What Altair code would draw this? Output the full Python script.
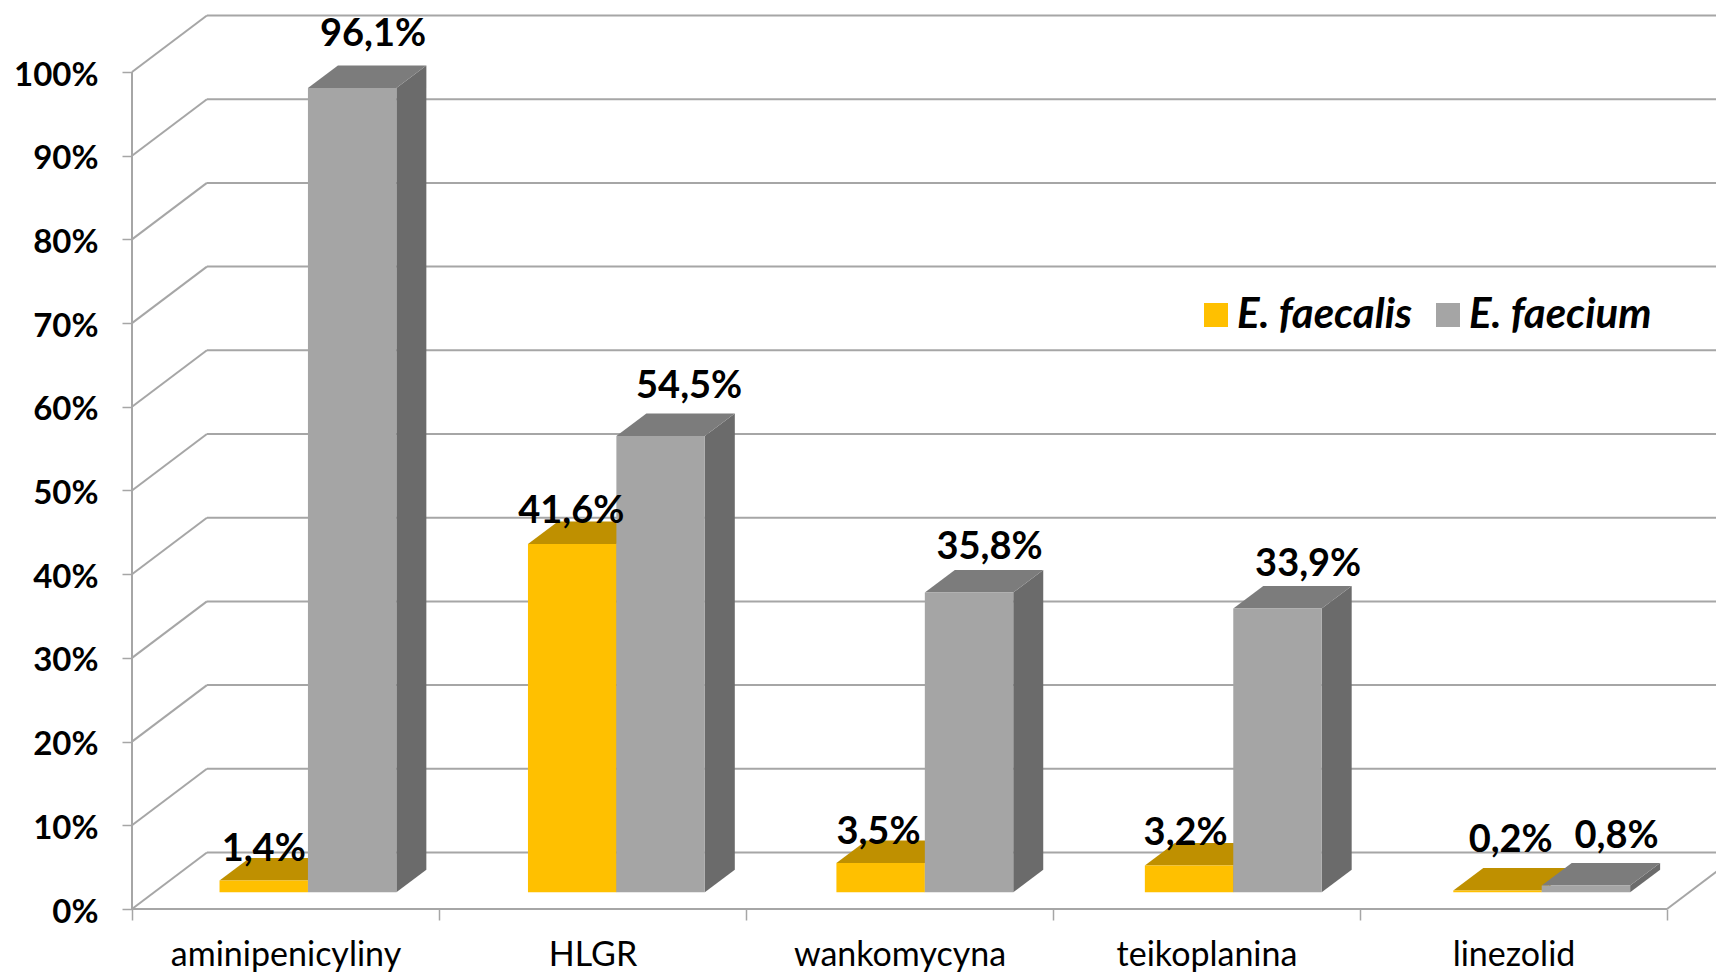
import altair as alt
import pandas as pd

CATEGORIES = ["aminipenicyliny", "HLGR", "wankomycyna", "teikoplanina", "linezolid"]
FAECALIS = [1.4, 41.6, 3.5, 3.2, 0.2]
FAECIUM = [96.1, 54.5, 35.8, 33.9, 0.8]
FAECALIS_TEXT = ["1,4%", "41,6%", "3,5%", "3,2%", "0,2%"]
FAECIUM_TEXT = ["96,1%", "54,5%", "35,8%", "33,9%", "0,8%"]
Y_TICKS = list(range(0, 101, 10))
X_TICKS = [0, 1, 2, 3, 4, 5]

# label nudges (category units, percent units)
FAECALIS_NX = [0.0, -0.003, -0.007, -0.011, 0.043]
FAECALIS_NY = [3.7, 3.8, 3.6, 3.8, 5.9]
FAECIUM_NX = [0.068, 0.093, 0.067, 0.100, 0.100]
FAECIUM_NY = [6.3, 5.9, 5.3, 5.2, 5.8]

# pseudo-3D geometry
WALL_DX, WALL_DY = 0.244, 6.75
BASE_DX, BASE_DY = 0.0731, 2.0
DEPTH_DX, DEPTH_DY = 0.0977, 2.69
BAR_W = 0.288
BAR_STEP = 1.0047
X_MAX = 1584 / 307
Y_MAX = 901 / 8.37

FONT = "Lato"
GRID = "#A6A6A6"
SERIES = [
    ("E. faecalis", FAECALIS, FAECALIS_TEXT, FAECALIS_NX, FAECALIS_NY, 0, "#BF9000", "#A07800"),
    ("E. faecium", FAECIUM, FAECIUM_TEXT, FAECIUM_NX, FAECIUM_NY, 1, "#7C7C7C", "#6B6B6B"),
]

xs = alt.Scale(domain=[0, X_MAX], nice=False, zero=False)
ys = alt.Scale(domain=[0, Y_MAX], nice=False, zero=False)
x_axis = alt.Axis(
    values=X_TICKS, domain=False, grid=False, tickColor=GRID, tickSize=11, tickWidth=1.5,
    labelFont=FONT, labelFontSize=34, labelColor="#000000", labelPadding=35,
    labelOffset=153.5, labelAlign="center", labelBaseline="middle", labelLimit=600,
    labelFlush=False, labelOverlap=False, labelBound=False, title=None,
    labelExpr="datum.value<5 ? " + str(CATEGORIES) + "[datum.value] : ''",
)
y_axis = alt.Axis(
    values=Y_TICKS, domain=False, grid=False, tickColor=GRID, tickSize=10, tickWidth=1.5,
    labelFont=FONT, labelFontSize=33, labelFontWeight="bold", labelColor="#000000", labelOffset=3,
    labelPadding=24, labelExpr="datum.value+'%'", labelOverlap=False, labelBound=False, title=None,
)


def X(field="x:Q"):
    return alt.X(field, scale=xs, axis=x_axis)


def Y(field="y:Q"):
    return alt.Y(field, scale=ys, axis=y_axis)


axis_rule = alt.Chart(pd.DataFrame({"x": [0.0], "y": [0.0], "y2": [100.0]})).mark_rule(
    color=GRID, strokeWidth=2
).encode(x=X(), y=Y(), y2="y2:Q")

floor_rows = pd.DataFrame({
    "x": [0.0, 5.0], "x2": [5.0, 5.0 + WALL_DX], "y": [0.0, 0.0], "y2": [0.0, WALL_DY],
})
floor = alt.Chart(floor_rows).mark_rule(color=GRID, strokeWidth=2).encode(
    x=X(), x2="x2:Q", y=Y(), y2="y2:Q"
)

back_rows = pd.DataFrame({
    "x": [WALL_DX] * len(Y_TICKS), "x2": [X_MAX] * len(Y_TICKS),
    "y": [v + WALL_DY for v in Y_TICKS],
})
back = alt.Chart(back_rows).mark_rule(color=GRID, strokeWidth=2).encode(
    x=X(), x2="x2:Q", y=Y()
)

diag_rows = pd.DataFrame({
    "x": [0.0] * len(Y_TICKS), "x2": [WALL_DX] * len(Y_TICKS),
    "y": Y_TICKS, "y2": [v + WALL_DY for v in Y_TICKS],
})
diag = alt.Chart(diag_rows).mark_rule(color=GRID, strokeWidth=2).encode(
    x=X(), x2="x2:Q", y=Y(), y2="y2:Q"
)

layers = [back, diag, axis_rule, floor]
label_rows = []
for name, values, texts, nx, ny, idx, top_col, side_col in SERIES:
    front_rows, top_rows, side_rows = [], [], []
    for i, v in enumerate(values):
        left = i * BAR_STEP + 0.5 - BAR_W + idx * BAR_W + BASE_DX
        right = left + BAR_W
        front_rows.append({"s": name, "x": left, "x2": right, "y": BASE_DY, "y2": BASE_DY + v})
        top = BASE_DY + v
        top_rows += [
            {"k": i, "y": top, "x": left, "x2": right},
            {"k": i, "y": top + DEPTH_DY, "x": left + DEPTH_DX, "x2": right + DEPTH_DX},
        ]
        side_rows += [
            {"k": i, "x": right, "y": BASE_DY, "y2": top},
            {"k": i, "x": right + DEPTH_DX, "y": BASE_DY + DEPTH_DY, "y2": top + DEPTH_DY},
        ]
        label_rows.append({"x": (left + right) / 2 + nx[i], "y": top + ny[i], "t": texts[i]})
    side = alt.Chart(pd.DataFrame(side_rows)).mark_area(orient="vertical", color=side_col).encode(
        x=X(), y=Y(), y2="y2:Q", detail="k:N"
    )
    top = alt.Chart(pd.DataFrame(top_rows)).mark_area(orient="horizontal", color=top_col).encode(
        y=Y(), x=X(), x2="x2:Q", detail="k:N"
    )
    front = alt.Chart(pd.DataFrame(front_rows)).mark_rect().encode(
        x=X(), x2="x2:Q", y=Y(), y2="y2:Q",
        color=alt.Color("s:N", title=None,
                        scale=alt.Scale(domain=["E. faecalis", "E. faecium"],
                                        range=["#FFC000", "#A5A5A5"])),
    )
    layers += [side, top, front]

labels = alt.Chart(pd.DataFrame(label_rows)).mark_text(
    font=FONT, fontSize=38, fontWeight="bold", color="#000000", baseline="middle", align="center"
).encode(x=X(), y=Y(), text="t:N")
layers.append(labels)

chart = alt.layer(*layers).properties(
    width=1584, height=901,
    autosize=alt.AutoSizeParams(type="none"),
    padding={"left": 124, "top": 0, "right": 0, "bottom": 65},
).configure_view(stroke=None).configure_legend(
    orient="none", legendX=1063, legendY=286, columns=2, direction="horizontal",
    symbolType="square", symbolSize=576, symbolStrokeWidth=0, symbolOpacity=1,
    labelFont=FONT, labelFontSize=42, labelFontStyle="italic", labelFontWeight="bold",
    labelColor="#000000", columnPadding=14, labelOffset=0, labelLimit=500,
)

chart.save("out.html", embed_options={"renderer": "svg", "actions": False})
